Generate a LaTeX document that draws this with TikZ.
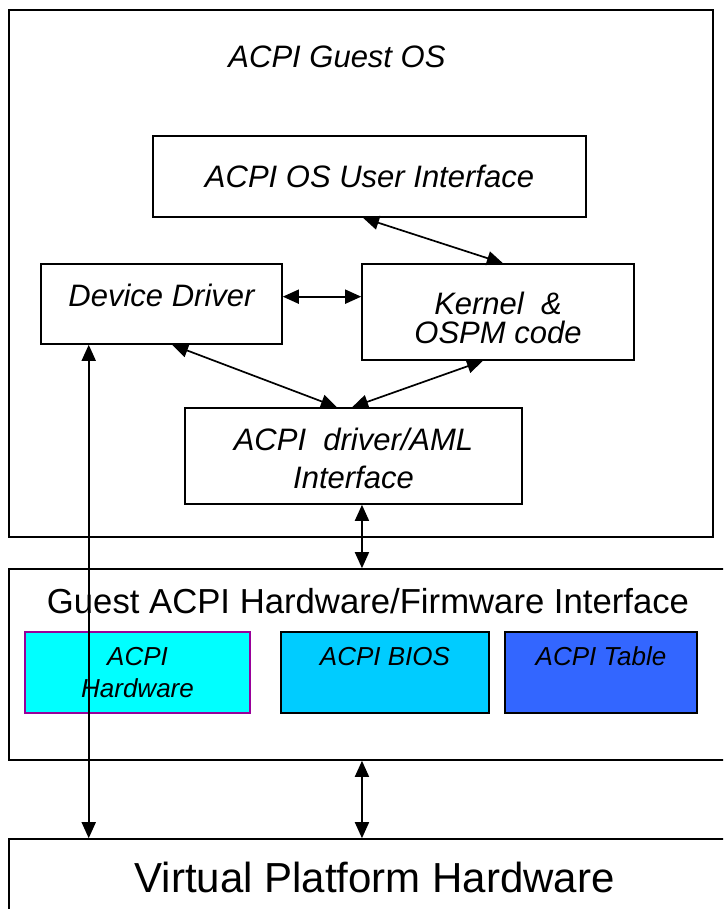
\documentclass[tikz,border=0pt]{standalone}
\usepackage{fontspec}
\setmainfont{Liberation Sans}
\usetikzlibrary{arrows.meta,calc}
\definecolor{hwfill}{HTML}{00FFFF}
\definecolor{hwline}{HTML}{990099}
\definecolor{biosfill}{HTML}{00CCFF}
\definecolor{tblfill}{HTML}{3366FF}
\begin{document}
\begin{tikzpicture}[x=1pt,y=-1pt,
  box/.style={draw=black, line width=1.6pt, inner sep=0pt, align=center},
  big/.style={font=\fontsize{31}{36}\selectfont\itshape},
  small/.style={font=\fontsize{26}{32}\selectfont\itshape},
  link/.style={line width=1.7pt, {Triangle[length=16pt,width=14pt]}-{Triangle[length=16pt,width=14pt]}},
]
\clip (0,0) rectangle (723,909);
\fill[white] (0,0) rectangle (723,909);

% guest operating system
\node[box, minimum width=704pt, minimum height=527pt] (guest) at (361,273.5) {};
\node[big, inner sep=0pt] (guesttitle) at (337,57) {ACPI Guest OS};
\node[box, big, minimum width=433pt, minimum height=81pt] (ui) at (369.5,176.5) {ACPI OS User Interface};
\node[box, big, minimum width=241pt, minimum height=80pt, text depth=18pt] (dd) at (161.5,304) {Device Driver};
\node[box, font=\fontsize{31}{29}\selectfont\itshape, minimum width=272pt, minimum height=96pt] (kern) at (498,312) {\rule{0pt}{34pt}Kernel~~\&\\OSPM code};
\node[box, font=\fontsize{31}{38}\selectfont\itshape, minimum width=337pt, minimum height=96pt] (aml) at (353.5,456) {\rule{0pt}{28pt}ACPI~~driver/AML\\Interface};

% firmware interface layer
\node[box, minimum width=731pt, minimum height=191pt] (fw) at (374.5,664.5) {};
\node[inner sep=0pt, font=\fontsize{34.7}{40}\selectfont] (fwtitle) at (368,601) {Guest ACPI Hardware/Firmware Interface};
\node[box, small, draw=hwline, fill=hwfill, minimum width=225pt, minimum height=81pt] (hw) at (137.5,672.5) {ACPI\\Hardware};
\node[box, small, fill=biosfill, minimum width=208pt, minimum height=81pt] (bios) at (385,672.5) {ACPI BIOS\\\phantom{Hardware}};
\node[box, small, fill=tblfill, minimum width=192pt, minimum height=81pt] (tbl) at (601,672.5) {ACPI Table\\\phantom{Hardware}};

% platform
\node[box, font=\fontsize{42}{48}\selectfont, minimum width=731pt, minimum height=76pt] (vph) at (374.5,877) {Virtual Platform Hardware};

% connectors
\coordinate (uiB) at ($(ui.south west)!0.485!(ui.south east)$);
\coordinate (kernT) at ($(kern.north west)!0.518!(kern.north east)$);
\coordinate (ddR) at ($(dd.north east)!0.41!(dd.south east)$);
\coordinate (ddB) at ($(dd.south west)!0.544!(dd.south east)$);
\coordinate (ddL) at ($(dd.south west)!0.2!(dd.south east)$);
\coordinate (kernB) at ($(kern.south west)!0.445!(kern.south east)$);
\coordinate (amlTa) at ($(aml.north west)!0.451!(aml.north east)$);
\coordinate (amlTb) at ($(aml.north west)!0.496!(aml.north east)$);
\coordinate (amlB) at ($(aml.south west)!0.525!(aml.south east)$);

\draw[link] (uiB) -- (kernT);
\draw[link] (ddR) -- (ddR -| kern.west);
\draw[link] (ddB) -- (amlTa);
\draw[link] (kernB) -- (amlTb);
\draw[link] (amlB) -- (amlB |- fw.north);
\draw[link] (amlB |- fw.south) -- (amlB |- vph.north);
\draw[link] (ddL) -- (ddL |- vph.north);
\end{tikzpicture}
\end{document}
